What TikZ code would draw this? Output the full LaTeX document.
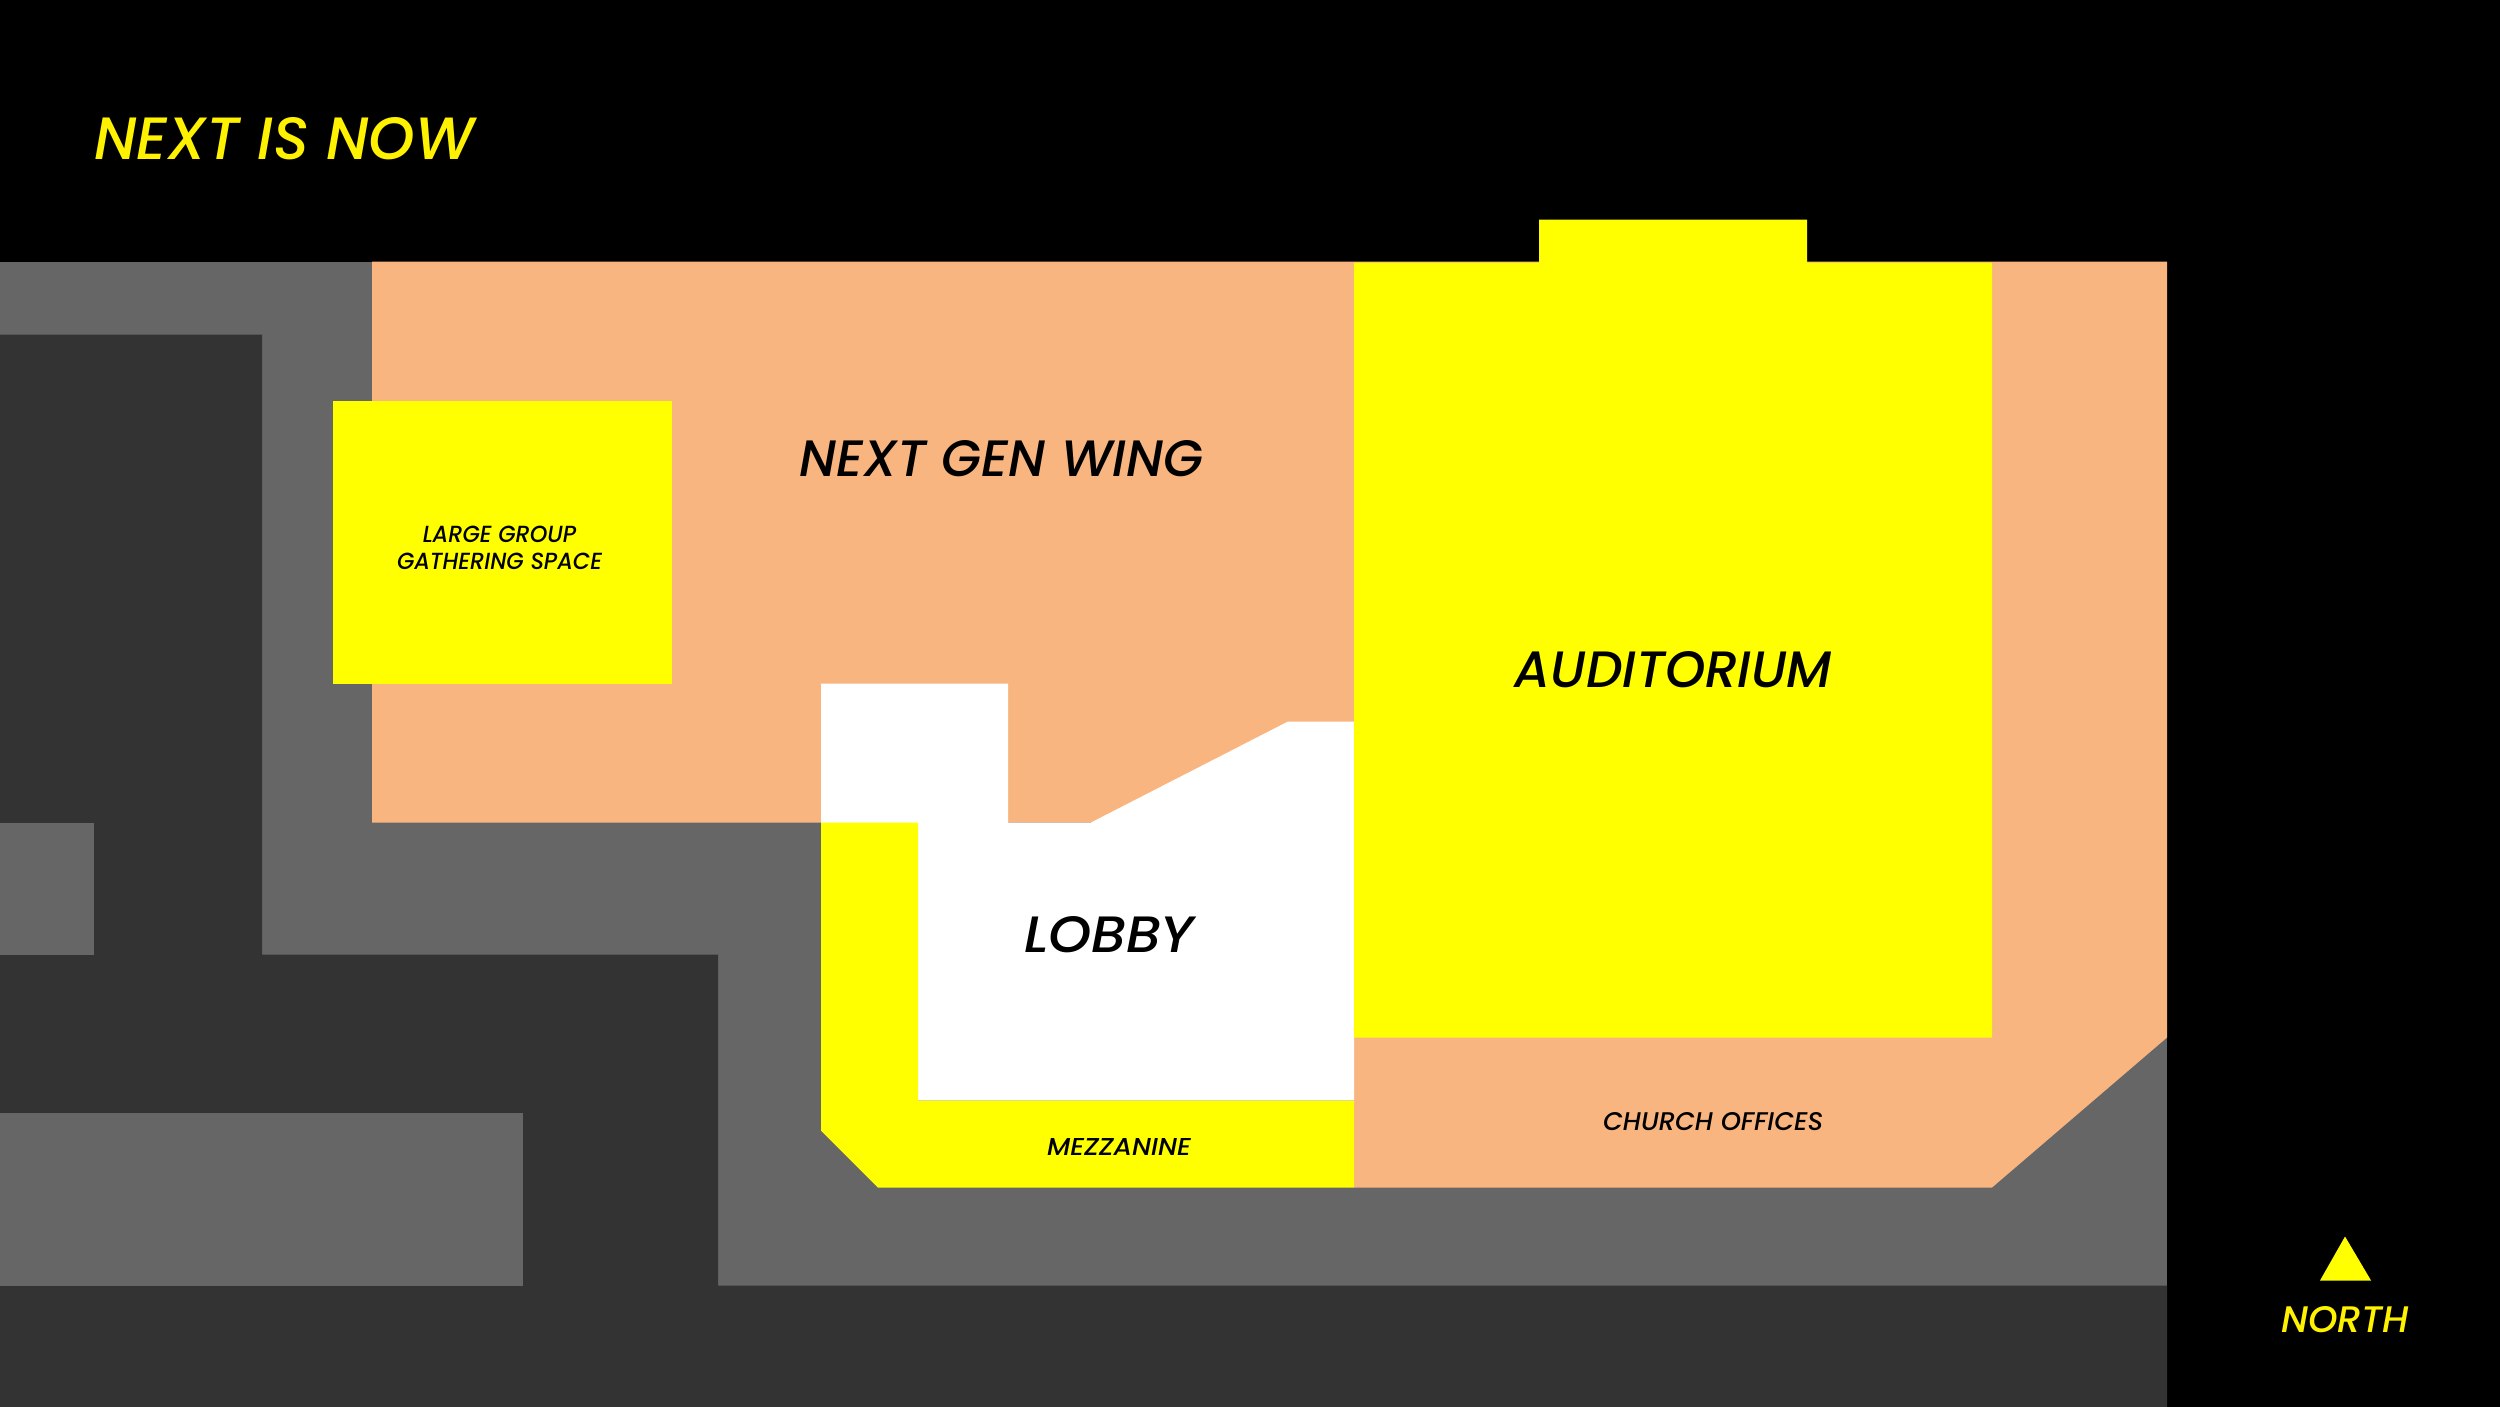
\documentclass[tikz,border=0pt]{standalone}
\usepackage{graphicx}
\usepackage{fontspec}
\setmainfont{Poppins Medium}[ItalicFont={Poppins Medium Italic}]
\definecolor{ink}{HTML}{000000}
\definecolor{sitedark}{HTML}{333333}
\definecolor{sitegrey}{HTML}{666666}
\definecolor{wing}{HTML}{F8B580}
\definecolor{hall}{HTML}{FFFF00}
\definecolor{titleyellow}{HTML}{FFF200}
\newlength\pxu
\setlength\pxu{0.02cm}
\newcommand\fitted[3]{\resizebox{#1\pxu}{#2\pxu}{\itshape #3}}
\tikzset{
  x=0.02cm, y=-0.02cm,
  lbl/.style={inner sep=0pt, outer sep=0pt, anchor=center, text=black},
  ylbl/.style={inner sep=0pt, outer sep=0pt, anchor=center, text=titleyellow}
}
\begin{document}
\begin{tikzpicture}
\useasboundingbox (0,0) rectangle (2500,1406);
\fill[ink] (-10,-10) rectangle (2510,1416);
\begin{scope}[yshift=-0.01cm]
% site
\fill[sitegrey] (0,261) rectangle (2167,1285);
\fill[sitedark] (-10,334) -- (262,334) -- (262,954) -- (718,954) -- (718,1285) -- (2167,1285) -- (2167,1416) -- (-10,1416) -- cycle;
\fill[sitegrey] (-10,822) rectangle (94,954);
\fill[sitegrey] (-10,1112) rectangle (523,1285);
% wings
\fill[wing] (372,261) -- (2167,261) -- (2167,1037) -- (1992,1187) -- (1354,1187) -- (1354,822) -- (372,822) -- cycle;
% lobby
\fill[white] (821,683) -- (1008,683) -- (1008,822) -- (1091,822) -- (1288,721) -- (1354,721) -- (1354,1100) -- (821,1100) -- cycle;
% mezzanine
\fill[hall] (821,822) -- (918,822) -- (918,1100) -- (1354,1100) -- (1354,1187) -- (878,1187) -- (821,1130) -- cycle;
% auditorium
\fill[hall] (1354,262) -- (1539,262) -- (1539,219) -- (1807,219) -- (1807,262) -- (1992,262) -- (1992,1037) -- (1354,1037) -- cycle;
% large group space
\fill[hall] (333,400) rectangle (672,683);
% north
\fill[hall] (2345,1236) -- (2371,1280) -- (2320,1280) -- cycle;
\end{scope}
% labels
\node[ylbl] (title) at (284,139) {\fitted{380}{42}{NEXT IS NOW}};
\node[lbl] (nextgen) at (1001,459) {\fitted{404}{36}{NEXT GEN WING}};
\node[lbl] (auditorium) at (1673.5,670) {\fitted{317}{36}{AUDITORIUM}};
\node[lbl] (lobby) at (1109,935) {\fitted{170}{36}{LOBBY}};
\node[lbl] (mezz) at (1119,1147) {\fitted{144}{17}{MEZZANINE}};
\node[lbl] (offices) at (1713,1122) {\fitted{220}{18}{CHURCH OFFICES}};
\node[lbl] (large) at (499.5,548) {\fitted{205}{44}{\shortstack[c]{LARGE GROUP\\[1.7pt]GATHERING SPACE}}};
\node[ylbl] (north) at (2345,1320) {\fitted{128}{26}{NORTH}};
\end{tikzpicture}
\end{document}
